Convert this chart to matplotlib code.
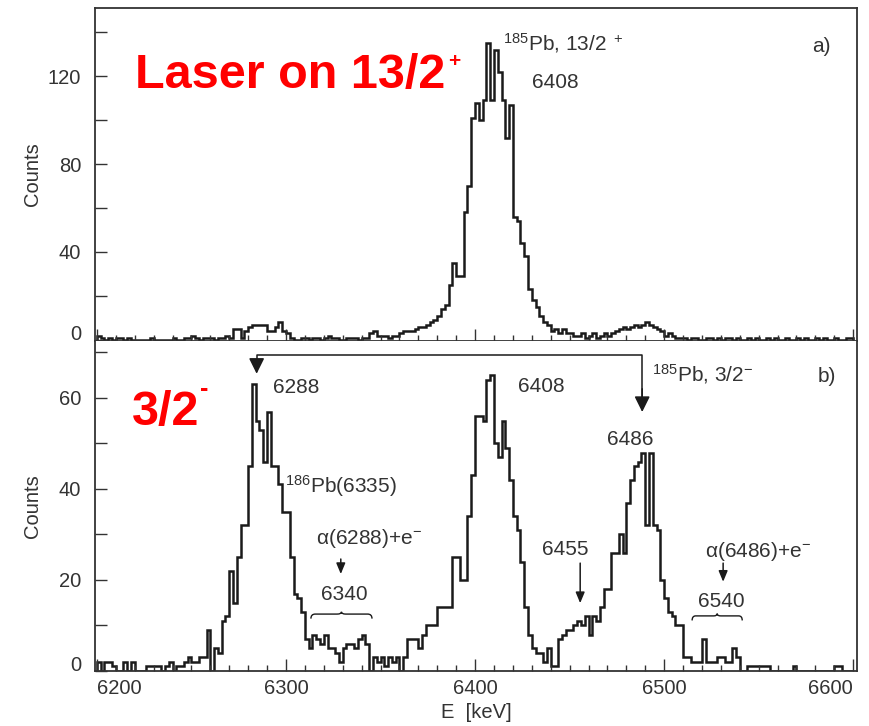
import numpy as np
import matplotlib
matplotlib.use("Agg")
import matplotlib.pyplot as plt
from matplotlib.ticker import MultipleLocator
from matplotlib.path import Path
from matplotlib.patches import PathPatch

plt.rcParams['font.family'] = ['Liberation Sans', 'DejaVu Sans']
plt.rcParams['mathtext.fontset'] = 'custom'
plt.rcParams['mathtext.rm'] = 'Liberation Sans'
plt.rcParams['mathtext.default'] = 'regular'

# alpha energy spectra, 2 keV bins from 6200 to 6600 keV
e_start = 6200
bin_width = 2

# a) laser on 13/2+
counts_a = [
    2, 1, 0, 1, 0, 1, 1, 0, 1, 0,
    0, 0, 0, 0, 1, 0, 0, 0, 0, 0,
    1, 0, 0, 1, 1, 2, 1, 0, 1, 1,
    1, 0, 1, 1, 2, 1, 5, 5, 1, 4,
    6, 7, 7, 7, 7, 4, 4, 6, 8, 4,
    3, 1, 0, 0, 1, 1, 0, 1, 1, 0,
    1, 2, 1, 1, 0, 0, 1, 1, 1, 0,
    1, 1, 3, 4, 2, 2, 2, 1, 2, 2,
    3, 4, 4, 4, 5, 6, 6, 7, 8, 9,
    11, 14, 16, 25, 35, 29, 29, 58, 70, 101,
    108, 100, 109, 135, 109, 132, 122, 109, 92, 107,
    56, 54, 44, 38, 23, 18, 15, 11, 8, 7,
    4, 5, 3, 5, 3, 3, 2, 2, 3, 1,
    2, 3, 1, 2, 3, 2, 3, 4, 5, 6,
    5, 6, 7, 6, 7, 8, 7, 6, 5, 4,
    2, 3, 2, 1, 1, 1, 0, 1, 1, 0,
    0, 1, 1, 0, 1, 0, 1, 1, 0, 1,
    0, 0, 1, 0, 1, 0, 0, 1, 0, 1,
    0, 0, 1, 0, 0, 1, 0, 1, 0, 0,
    1, 0, 1, 0, 0, 1, 0, 0, 1, 1,
]

# b) laser on 3/2-
counts_b = [
    2, 0, 2, 2, 1, 0, 0, 2, 0, 2,
    0, 0, 0, 1, 1, 1, 1, 0, 1, 2,
    0, 1, 1, 2, 3, 2, 2, 3, 3, 9,
    0, 5, 4, 11, 12, 22, 15, 25, 32, 32,
    45, 63, 55, 53, 46, 57, 45, 45, 41, 35,
    35, 25, 17, 16, 13, 7, 5, 8, 7, 6,
    8, 5, 5, 4, 2, 5, 6, 6, 5, 7,
    8, 6, 0, 3, 2, 3, 1, 3, 2, 3,
    0, 3, 7, 7, 7, 5, 8, 10, 10, 10,
    14, 14, 14, 14, 25, 25, 20, 20, 34, 43,
    56, 56, 55, 64, 65, 50, 47, 55, 49, 42,
    34, 31, 24, 14, 8, 5, 4, 4, 2, 5,
    1, 1, 7, 8, 9, 9, 10, 11, 10, 12,
    8, 12, 11, 14, 18, 18, 26, 26, 30, 26,
    37, 42, 45, 46, 48, 32, 48, 32, 31, 20,
    16, 13, 12, 10, 10, 3, 3, 2, 2, 2,
    7, 2, 2, 2, 3, 3, 2, 2, 5, 3,
    0, 0, 1, 1, 1, 1, 1, 1, 0, 0,
    0, 0, 0, 0, 1, 0, 0, 0, 0, 0,
    0, 0, 0, 0, 0, 1, 1, 0, 0, 0,
]

xticks = [6200, 6300, 6400, 6500, 6600]
yticks_a = [0, 40, 80, 120]
yticks_b = [0, 20, 40, 60]

edges = e_start + bin_width * np.arange(len(counts_a) + 1)

line_col = '#1a1a1a'
axis_col = '#333333'
FS = 14.5

fig = plt.figure(figsize=(8.69, 7.26), dpi=100)
ax1 = fig.add_axes([0.1093, 0.5303, 0.8769, 0.4587])
ax2 = fig.add_axes([0.1093, 0.0758, 0.8769, 0.4545], sharex=ax1)

ax1.stairs(counts_a, edges, color=line_col, linewidth=1.8)
ax2.stairs(counts_b, edges, color=line_col, linewidth=1.8)

ax1.set_xlim(6199, 6602)
ax1.set_ylim(-0.5, 151)
ax2.set_ylim(0, 72.5)

for ax, yt, ymin in ((ax1, yticks_a, 20), (ax2, yticks_b, 10)):
    ax.set_yticks(yt)
    ax.yaxis.set_minor_locator(MultipleLocator(ymin))
    ax.xaxis.set_minor_locator(MultipleLocator(10))
    for s in ax.spines.values():
        s.set_color(axis_col)
        s.set_linewidth(1.3)
    ax.tick_params(which='both', direction='in', top=False, right=False,
                   color=axis_col, width=1.0, labelcolor=axis_col, labelsize=FS)
    ax.tick_params(axis='y', which='both', length=8.5, pad=10)
    ax.tick_params(axis='x', which='major', length=8.5, pad=6)
    ax.tick_params(axis='x', which='minor', length=4.3)
    ax.set_ylabel('Counts', fontsize=FS, color=axis_col)
    ax.yaxis.set_label_coords(-0.07, 0.5)
    ax.get_yticklabels()[0].set_va('baseline')

ax2.spines['top'].set_visible(False)
ax1.tick_params(labelbottom=False)
ax2.set_xticks(xticks)
xl = ax2.get_xticklabels()
xl[0].set_ha('left')
xl[-1].set_ha('right')
ax2.set_xlabel('E  [keV]', fontsize=FS, color=axis_col)
ax2.xaxis.set_label_coords(0.5, -0.097)

# red headings
t1 = ax1.text(0.052, 0.76, 'Laser on 13/2', transform=ax1.transAxes, color='red',
              fontsize=35, fontweight='bold', ha='left', va='baseline')
ax1.annotate('+', xy=(1, 0), xycoords=t1, xytext=(2, 26), textcoords='offset points',
             color='red', fontsize=15, fontweight='bold', ha='left', va='center')
t2 = ax2.text(0.048, 0.745, '3/2', transform=ax2.transAxes, color='red',
              fontsize=35, fontweight='bold', ha='left', va='baseline')
ax2.annotate('-', xy=(1, 0), xycoords=t2, xytext=(1, 33), textcoords='offset points',
             color='red', fontsize=18, fontweight='bold', ha='left', va='center')

# top panel labels
ax1.text(6415, 131.8, r'$\mathregular{^{185}}$Pb, 13/2$\mathregular{^{\ +}}$',
         fontsize=15, color=axis_col, ha='left', va='baseline')
ax1.text(6430, 114.5, '6408', fontsize=15, color=axis_col, ha='left', va='baseline')
ax1.text(6578, 131, 'a)', fontsize=15, color=axis_col, ha='left', va='baseline')

# bottom panel labels
txt = dict(fontsize=15, color=axis_col, ha='left', va='baseline')
ax2.text(6293, 61.1, '6288', **txt)
ax2.text(6422.8, 61.3, '6408', **txt)
ax2.text(6469.8, 49.7, '6486', **txt)
ax2.text(6493.7, 63.7, r'$\mathregular{^{185}}$Pb, 3/2$\mathregular{^{-}}$', **txt)
ax2.text(6581, 63.5, 'b)', **txt)
ax2.text(6299.5, 39.1, r'$\mathregular{^{186}}$Pb(6335)', **txt)
ax2.text(6316, 27.9, r'α(6288)+e$\mathregular{^{-}}$', **txt)
ax2.text(6318.5, 15.6, '6340', **txt)
ax2.text(6435.4, 25.5, '6455', **txt)
ax2.text(6521.7, 25.1, r'α(6486)+e$\mathregular{^{-}}$', **txt)
ax2.text(6518, 14.1, '6540', **txt)

big_head = '-|>,head_length=0.95,head_width=0.47'
small_head = '-|>,head_length=0.65,head_width=0.27'


def arrow(ax, x, y0, y1, style, lw=1.1):
    ax.annotate('', xy=(x, y1), xytext=(x, y0),
                arrowprops=dict(arrowstyle=style, color=line_col, lw=lw,
                                mutation_scale=10, shrinkA=0, shrinkB=0))


# 6288 <-> 6486 connector
ax2.plot([6284.5, 6284.5, 6488.4, 6488.4], [67.5, 69.5, 69.5, 60],
         color=line_col, lw=1.1)
arrow(ax2, 6284.5, 68, 65.3, big_head)
arrow(ax2, 6488.4, 62, 56.9, big_head)

arrow(ax2, 6329, 24.6, 21.3, small_head)
arrow(ax2, 6455.6, 23.7, 14.9, small_head)
arrow(ax2, 6531.2, 23.7, 19.6, small_head)


def brace(ax, x0, x1, y, h):
    xm = (x0 + x1) / 2
    dx = (x1 - x0) * 0.07
    verts = [(x0, y - h), (x0, y), (x0 + dx, y),
             (xm - dx, y), (xm, y), (xm, y + 0.5 * h),
             (xm, y), (xm + dx, y),
             (x1 - dx, y), (x1, y), (x1, y - h)]
    codes = [Path.MOVETO, Path.CURVE3, Path.CURVE3,
             Path.LINETO, Path.CURVE3, Path.CURVE3,
             Path.CURVE3, Path.CURVE3,
             Path.LINETO, Path.CURVE3, Path.CURVE3]
    ax.add_patch(PathPatch(Path(verts, codes), fill=False, color=line_col, lw=1.0))


brace(ax2, 6313.2, 6345.5, 12.5, 1.0)
brace(ax2, 6514.8, 6541.3, 12.1, 1.0)

fig.savefig('out.png', dpi=100)
